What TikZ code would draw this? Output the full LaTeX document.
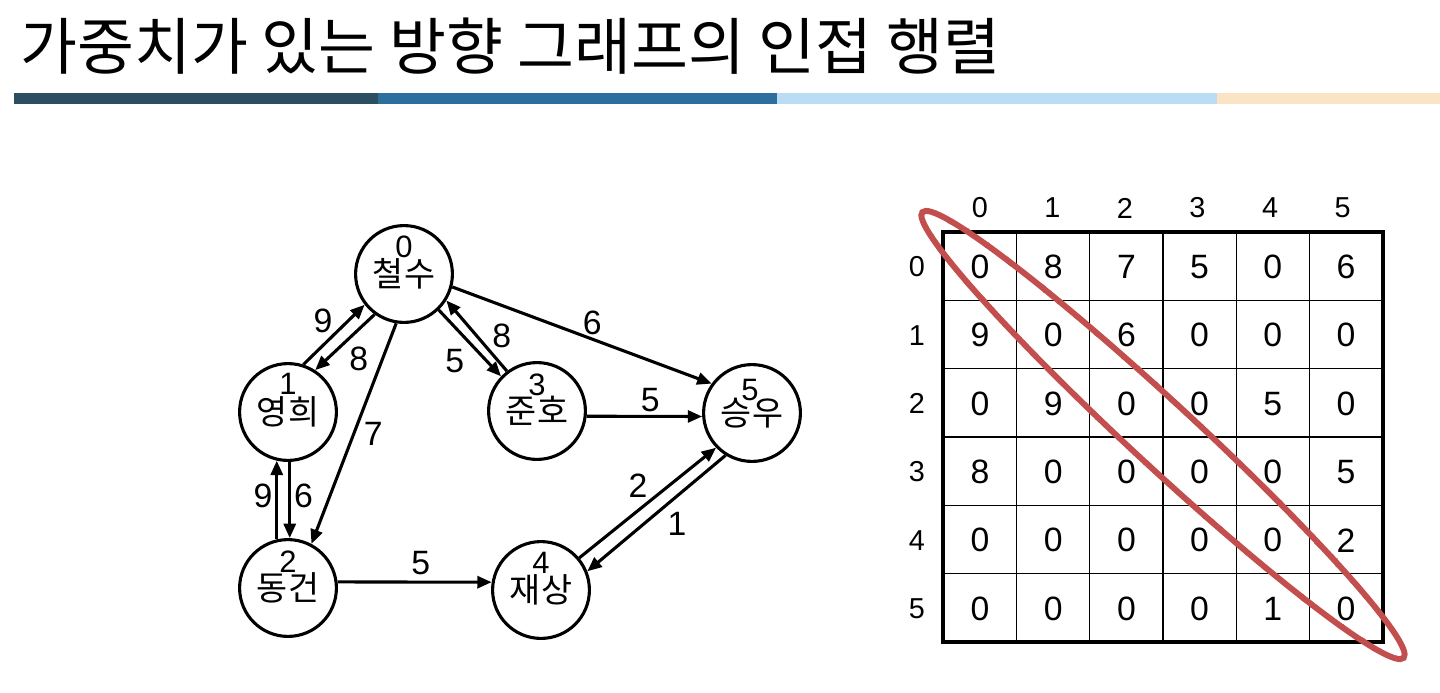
\documentclass[tikz,border=0pt]{standalone}
\usepackage{fontspec}
\setmainfont{Liberation Sans}
\newfontfamily\kor{Noto Sans CJK KR}
\usetikzlibrary{arrows.meta, calc, decorations.pathmorphing}
\definecolor{bardark}{HTML}{2C4E62}
\definecolor{barblue}{HTML}{2A6F9E}
\definecolor{barlight}{HTML}{BBDDF3}
\definecolor{barpeach}{HTML}{FBE4C6}
\definecolor{markred}{HTML}{C24F4D}

\begin{document}
\begin{tikzpicture}[
  x=0.025cm, y=0.025cm,
  vert/.style={circle, draw, line width=2.2pt, minimum size=2.42cm, inner sep=0pt, font=\kor\fontsize{24}{26}\selectfont},
  vnum/.style={inner sep=0pt, font=\fontsize{22}{24}\selectfont},
  arr/.style={-{Triangle[length=3.6mm, width=3mm]}, line width=2.2pt},
  elbl/.style={inner sep=0pt, font=\fontsize{24}{26}\selectfont},
  cell/.style={inner sep=0pt, font=\fontsize{24}{26}\selectfont},
  hdr/.style={inner sep=0pt, font=\fontsize{20.5}{22}\selectfont},
  redmark/.style={draw=markred, line width=4.2pt}
]
\useasboundingbox (0,0) rectangle (1440,-692);

% Title and colour bar
\node[anchor=west, inner sep=0pt, font=\kor\fontsize{44}{48}\selectfont] (title) at (20,-46) {가중치가 있는 방향 그래프의 인접 행렬};
\fill[bardark] (14,-93) rectangle (378,-104);
\fill[barblue] (378,-93) rectangle (777,-104);
\fill[barlight] (777,-93) rectangle (1217,-104);
\fill[barpeach] (1217,-93) rectangle (1440,-104);

% Vertices
\node[vert] (n0) at (404,-274) {철수};
\node[vert] (n1) at (288,-412) {영희};
\node[vert] (n2) at (288,-588) {동건};
\node[vert] (n3) at (537,-411) {준호};
\node[vert] (n4) at (541,-590) {재상};
\node[vert] (n5) at (752,-413) {승우};

% Vertex numbers
\node[vnum] (k0) at ([yshift=0.67cm]n0.center) {0};
\node[vnum] (k1) at ([yshift=0.70cm]n1.center) {1};
\node[vnum] (k2) at ([yshift=0.65cm]n2.center) {2};
\node[vnum] (k3) at ([yshift=0.65cm]n3.center) {3};
\node[vnum] (k4) at ([yshift=0.67cm]n4.center) {4};
\node[vnum] (k5) at ([xshift=-0.05cm, yshift=0.58cm]n5.center) {5};

% Weighted edges
\draw[arr] (n1.72) -- node[elbl, above left=0pt] (w10) {9} (n0.218);
\draw[arr] (n0.234) -- node[elbl, below right=2pt] (w01) {8} (n1.57);
\draw[arr] (n0.314) -- node[elbl, below left=3pt] (w03) {5} (n3.136);
\draw[arr] (n3.127) -- node[elbl, right=10pt] (w30) {8} (n0.328);
\draw[arr] (n0.345) -- node[elbl, pos=.54, above=2pt] (w05) {6} (n5.144);
\draw[arr] (n0.261) -- node[elbl, right=6pt] (w02) {7} (n2.62);
\draw[arr] (n1.272) -- node[elbl, pos=.45, right=2pt] (w12) {6} (n2.88);
\draw[arr] (n2.103) -- node[elbl, pos=.55, left=2pt] (w21) {9} (n1.257);
\draw[arr] (n2.7) -- node[elbl, pos=.54, above=4pt] (w24) {5} (n4.171);
\draw[arr] (n3.354) -- node[elbl, pos=.55, above=2pt] (w35) {5} (n5.184);
\draw[arr] (n4.40) -- node[elbl, pos=.52, above left=1pt] (w45) {2} (n5.224);
\draw[arr] (n5.238) -- node[elbl, pos=.45, below right=2pt] (w54) {1} (n4.22);

% Adjacency matrix
\foreach \i in {1,...,5} {
  \draw[line width=1pt] ({943+\i*73.33},-232) -- ++(0,-410);
  \draw[line width=1pt] (943,{-232-\i*68.33}) -- ++(440,0);
}
\draw[line width=2.6pt] (943,-232) rectangle (1383,-642);
\foreach \c in {0,...,5}
  \node[hdr] (h-\c) at ({980+\c*72.5},-208) {\c};
\foreach \r in {0,...,5}
  \node[hdr] (r-\r) at (917,{-267-\r*68.33}) {\r};
\foreach \row [count=\r from 0] in {{0,8,7,5,0,6},{9,0,6,0,0,0},{0,9,0,0,5,0},{8,0,0,0,0,5},{0,0,0,0,0,2},{0,0,0,0,1,0}}
  \foreach \v [count=\c from 0] in \row
    \node[cell] (m-\r-\c) at ({980+\c*73.2},{-267-\r*68.33}) {\v};

% Diagonal mark
\pgfmathsetseed{7}
\draw[redmark, rotate around={-42.8:(1163,-435)}] (1163,-435) ellipse [x radius=328, y radius=32];
\draw[redmark, line width=1.8pt, rotate around={-42.8:(1163,-435)}, decorate, decoration={random steps, segment length=2.5pt, amplitude=1.3pt}] (1163,-435) ellipse [x radius=328, y radius=32];

\end{tikzpicture}
\end{document}
